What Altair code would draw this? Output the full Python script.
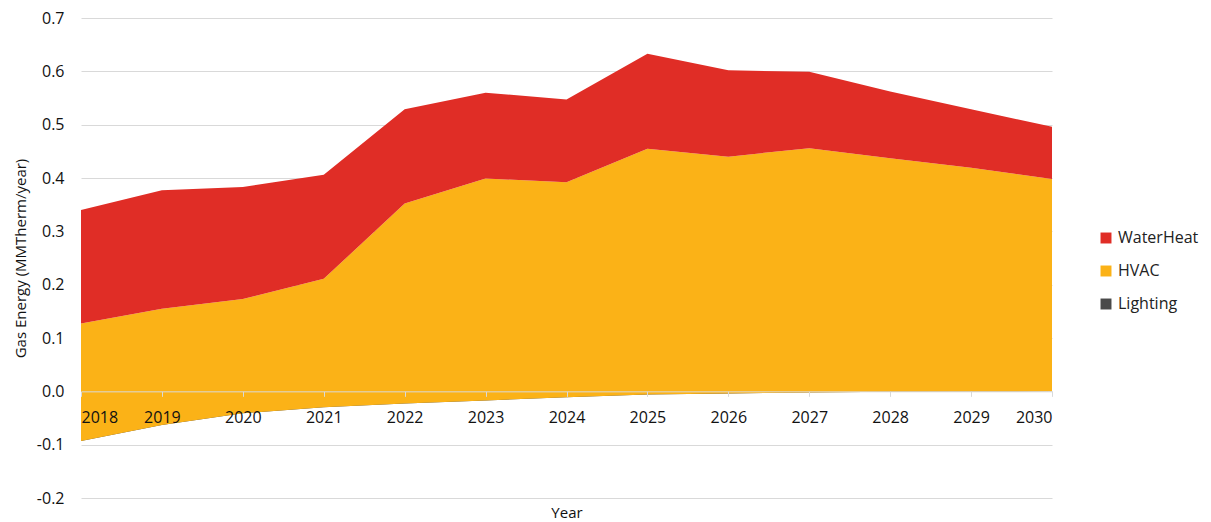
import altair as alt
import pandas as pd

years = list(range(2018, 2031))
lighting = [-0.093, -0.063, -0.041, -0.030, -0.023, -0.017, -0.011, -0.006, -0.004, -0.002, -0.001, -0.0005, 0.0]
hvac = [0.220, 0.218, 0.214, 0.241, 0.375, 0.416, 0.403, 0.461, 0.444, 0.458, 0.438, 0.4195, 0.398]
waterheat = [0.213, 0.222, 0.210, 0.195, 0.177, 0.161, 0.155, 0.178, 0.162, 0.143, 0.125, 0.110, 0.098]

series_names = ["WaterHeat", "HVAC", "Lighting"]
series_colors = ["#E02D26", "#FBB217", "#4A4A4A"]

# Excel-style stacking: each series stacks on the running sum, negatives included
rows = []
for i, yr in enumerate(years):
    base = 0.0
    for name, vals in (("Lighting", lighting), ("HVAC", hvac), ("WaterHeat", waterheat)):
        if name == "Lighting":
            lo, hi = 0.0, vals[i]
            base = vals[i]
        else:
            lo, hi = base, base + vals[i]
            base = hi
        rows.append({"Year": yr, "Series": name, "lo": lo, "hi": hi})
df = pd.DataFrame(rows)

W, H = 971, 480
ymin, ymax = -0.2, 0.7
zero_offset = -(0 - ymin) / (ymax - ymin) * H

FONT = "Open Sans"

color = alt.Color(
    "Series:N",
    scale=alt.Scale(domain=series_names, range=series_colors),
    legend=alt.Legend(
        title=None,
        orient="none",
        legendX=1017,
        legendY=212,
        symbolType="square",
        symbolSize=120,
        symbolStrokeWidth=0,
        labelFontSize=16,
        labelFont=FONT,
        labelColor="#222222",
        rowPadding=17,
        labelOffset=4,
        labelLimit=200,
    ),
)

x = alt.X(
    "Year:Q",
    scale=alt.Scale(domain=[2018, 2030], nice=False, zero=False),
    axis=alt.Axis(
        values=years,
        format="d",
        offset=zero_offset,
        grid=False,
        zindex=2,
        domainColor="#D9D9D9",
        tickColor="#D9D9D9",
        tickSize=5,
        labelFontSize=16,
        labelFont=FONT,
        labelColor="#111111",
        labelPadding=13,
        title="Year",
        titleFontSize=15,
        titleFont=FONT,
        titleFontWeight="normal",
        titleColor="#111111",
        titlePadding=80,
    ),
)

y = alt.Y(
    "hi:Q",
    scale=alt.Scale(domain=[ymin, ymax], nice=False),
    axis=alt.Axis(
        values=[-0.2, -0.1, 0.0, 0.1, 0.2, 0.3, 0.4, 0.5, 0.6, 0.7],
        format=".1f",
        labelExpr="replace(datum.label, '\u2212', '-')",
        domain=False,
        ticks=False,
        gridColor="#D9D9D9",
        gridWidth=1,
        labelFontSize=16,
        labelFont=FONT,
        labelColor="#111111",
        labelPadding=17,
        title="Gas Energy (MMTherm/year)",
        titleFontSize=15,
        titleFont=FONT,
        titleFontWeight="normal",
        titleColor="#111111",
        titlePadding=8,
    ),
)

layers = []
for name in ["Lighting", "HVAC", "WaterHeat"]:
    layers.append(
        alt.Chart(df)
        .transform_filter(alt.datum.Series == name)
        .mark_area(opacity=1, interpolate="linear")
        .encode(x=x, y=y, y2="lo:Q", color=color)
    )

chart = (
    alt.layer(*layers)
    .properties(
        width=W,
        height=H,
        background="white",
        autosize=alt.AutoSizeParams(type="none"),
        padding={"left": 73, "top": 10, "right": 150, "bottom": 24},
    )
    .configure_view(strokeWidth=0, stroke="transparent")
)

chart.save("out.html", embed_options={"renderer": "svg", "actions": False})
